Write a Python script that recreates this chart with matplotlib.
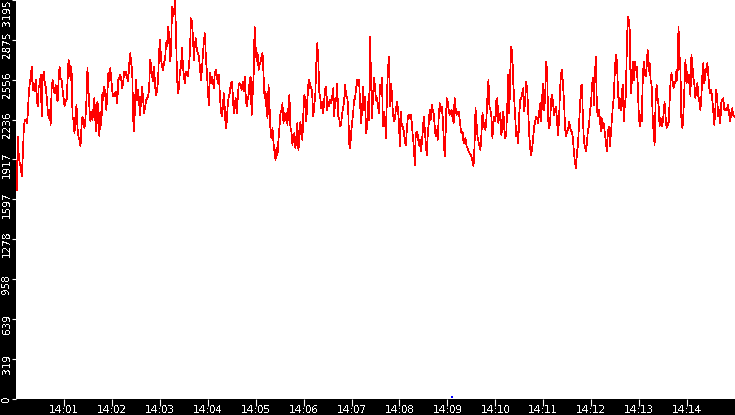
import numpy as np
import pandas as pd
import matplotlib
matplotlib.use("Agg")
import matplotlib.pyplot as plt
import matplotlib.dates as mdates
import matplotlib.transforms as mtransforms

# readings, left to right, roughly one per pixel column
seg1 = [1673, 2100, 1940, 1887, 1847, 1780, 1940, 2154, 2234, 2234, 2207, 2274, 2434, 2527, 2581, 2661,
        2474, 2527, 2461, 2554, 2421, 2341, 2501, 2514, 2594, 2260, 2554, 2621, 2541, 2501, 2421, 2314,
        2247, 2314, 2194, 2487, 2554, 2487, 2447, 2514, 2421, 2381, 2554, 2661, 2568, 2554, 2474, 2407,
        2341, 2394, 2381, 2554, 2714, 2688, 2554, 2661, 2260, 2234, 2127, 2274, 2354, 2167, 2100, 2074,
        2020, 2180, 2260, 2207, 2167, 2247, 2394, 2648, 2474, 2327, 2220, 2301, 2234, 2327, 2407, 2220,
        2140, 2381, 2314, 2100, 2301, 2194, 2447, 2394, 2501, 2421, 2314, 2447, 2608, 2541, 2648, 2554,
        2461, 2421, 2447, 2421, 2461, 2367, 2554, 2568, 2594, 2554, 2487, 2541, 2621, 2594, 2621, 2568,
        2541, 2688, 2768, 2688, 2621, 2234, 2140, 2421, 2554, 2394, 2474, 2367, 2274, 2407]
seg2 = [2501, 2394, 2287, 2341, 2394, 2407, 2421, 2487, 2714, 2674, 2581, 2541, 2661, 2501, 2434, 2474,
        2554, 2781, 2875, 2714, 2661, 2634, 2701, 2714, 2848, 2821, 2981, 2915, 2701, 2768, 3142, 3062,
        3088, 3195, 2928, 2581, 2447, 2487, 2634, 2648, 2808, 2661, 2581, 2527, 2621, 2594, 2581, 2674,
        2768, 3048, 3021, 2901, 2714, 2848, 2888, 2794, 2768, 2741, 2661, 2554, 2634, 2754, 2861, 2928,
        2741, 2621, 2474, 2354, 2608, 2527, 2581, 2554, 2487, 2608, 2634, 2594, 2527, 2594, 2461, 2314,
        2260, 2327, 2447, 2327, 2167, 2220, 2354, 2421, 2447, 2527, 2541, 2447, 2287, 2367, 2407, 2287,
        2407, 2514, 2527, 2501, 2474, 2541, 2461, 2581, 2434, 2341, 2394, 2434, 2554, 2581, 2274, 2421,
        2581, 2981, 2821, 2701, 2768, 2634, 2674, 2701, 2741]
seg3 = [2768, 2594, 2407, 2461, 2314, 2247, 2514, 2341, 2140, 2087, 2167, 2047, 1980, 1913, 2007, 1953,
        2074, 2180, 2287, 2314, 2367, 2207, 2287, 2234, 2287, 2194, 2341, 2434, 2167, 2140, 2034, 2100,
        2127, 2007, 2087, 2207, 1993, 2074, 2220, 2140, 2074, 2287, 2434, 2381, 2220, 2394, 2514, 2554,
        2487, 2501, 2421, 2260, 2354, 2434, 2688, 2848, 2714, 2461, 2407, 2327, 2381, 2287, 2394, 2487,
        2501, 2314, 2381, 2341, 2394, 2367, 2421, 2487, 2260, 2407, 2381, 2527, 2260, 2247, 2180, 2207,
        2287, 2327, 2394, 2514, 2421, 2421, 2341, 2047, 2007, 2127, 2207, 2287, 2394, 2407, 2487, 2554,
        2514, 2554, 2367, 2207, 2314, 2501, 2314, 2421, 2127, 2180, 2381, 2234, 2901, 2581, 2247, 2421,
        2568, 2501, 2394, 2407, 2341, 2287, 2514, 2474]
seg4 = [2568, 2180, 2301, 2247, 2087, 2434, 2634, 2741, 2341, 2527, 2447, 2287, 2220, 2247, 2314, 2381,
        2327, 2220, 2020, 2301, 2180, 2180, 2140, 2060, 2034, 2154, 2260, 2274, 2247, 2274, 2207, 2100,
        2020, 1873, 2127, 2140, 2114, 2034, 2074, 1980, 2047, 2140, 2260, 2167, 2047, 1953, 2114, 2207,
        2314, 2234, 2354, 2314, 2287, 2180, 2100, 2154, 2074, 2247, 2367, 2301, 2341, 2260, 2100, 1940,
        2127, 2407, 2381, 2314, 2274, 2287, 2314, 2247, 2207, 2407, 2327, 2274, 2287, 2301, 2247, 2167,
        2127, 2140, 2047, 2060, 2087, 2020, 2007, 1980, 1967, 1953, 1940, 1900, 1860, 2020, 2327, 2220,
        2100, 2060, 2020, 1993, 2127, 2287, 2220, 2167, 2154, 2247, 2421, 2554, 2341, 2314, 2260, 2087,
        2220, 2260, 2220, 2394, 2407, 2207, 2274, 2287]
seg5 = [2114, 2180, 2301, 2154, 2087, 2140, 2367, 2594, 2287, 2634, 2821, 2754, 2527, 2381, 2247, 2100,
        2140, 2047, 2287, 2394, 2407, 2447, 2487, 2301, 2407, 2541, 2474, 2301, 2114, 2007, 1953, 2007,
        2100, 2180, 2220, 2260, 2247, 2207, 2301, 2367, 2220, 2421, 2527, 2314, 2421, 2701, 2621, 2234,
        2167, 2207, 2394, 2434, 2367, 2274, 2314, 2341, 2220, 2114, 2247, 2487, 2608, 2634, 2501, 2381,
        2167, 2100, 2140, 2154, 2220, 2180, 2140, 2140, 2074, 1967, 1887, 1847, 1980, 2034, 2180, 2341,
        2501, 2514, 2234, 2060, 2020, 1980, 2047, 2154, 2180, 2301, 2354, 2501, 2568, 2354, 2594, 2741,
        2327, 2260, 2314, 2247, 2140, 2247, 2167, 2207, 2127, 2060, 1980, 2127, 2180, 2020, 2114, 2234,
        2341, 2421, 2621, 2754, 2714, 2527, 2327, 2407]
seg6 = [2314, 2447, 2514, 2220, 2341, 2421, 2768, 3062, 3035, 2955, 2447, 2527, 2701, 2554, 2701, 2634,
        2661, 2527, 2301, 2180, 2274, 2220, 2527, 2701, 2621, 2581, 2661, 2794, 2621, 2688, 2554, 2514,
        2274, 2127, 2034, 2381, 2514, 2407, 2354, 2180, 2247, 2180, 2207, 2274, 2381, 2260, 2167, 2207,
        2194, 2367, 2541, 2608, 2554, 2487, 2541, 2527, 2634, 2554, 2981, 2754, 2621, 2207, 2167, 2287,
        2501, 2714, 2527, 2621, 2527, 2594, 2421, 2754, 2674, 2568, 2514, 2407, 2501, 2527, 2421, 2381,
        2314, 2421, 2594, 2688, 2527, 2594, 2648, 2688, 2594, 2487, 2447, 2474, 2394, 2301, 2194, 2314,
        2474, 2394, 2260, 2314, 2207, 2367, 2394, 2407, 2314, 2314, 2327, 2314, 2354, 2274, 2220, 2287,
        2327, 2274, 2260]

marker_time = ["2024-01-01 14:09:06"]
marker_val = [12]

values = seg1 + seg2 + seg3 + seg4 + seg5 + seg6
times = pd.date_range("2024-01-01 14:00:01", "2024-01-01 14:14:59", periods=len(values))

ytick_vals = [0, 319.5, 639, 958.5, 1278, 1597.5, 1917, 2236.5, 2556, 2875.5, 3195]
ytick_labels = ["0", "319", "639", "958", "1278", "1597", "1917", "2236", "2556", "2875", "3195"]
xtick_times = pd.date_range("2024-01-01 14:01", "2024-01-01 14:14", freq="1min")

plt.rcParams["text.antialiased"] = False

fig = plt.figure(figsize=(7.35, 4.15), dpi=100, facecolor="black")
ax = fig.add_axes([16 / 735, 16.5 / 415, 719 / 735, 398.5 / 415])
ax.set_facecolor("white")
ax.plot(times, values, color="red", linewidth=0.5, antialiased=False)
ax.plot(pd.to_datetime(marker_time), marker_val, linestyle="none", marker="s",
        markersize=1.6, markeredgewidth=0, color="blue", antialiased=False)

ax.set_xlim(pd.Timestamp("2024-01-01 14:00:00"), pd.Timestamp("2024-01-01 14:15:00"))
ax.set_ylim(0, 3195)
ax.set_xticks(xtick_times)
ax.xaxis.set_major_formatter(mdates.DateFormatter("%H:%M"))
ax.set_yticks(ytick_vals)
ax.set_yticklabels(ytick_labels, rotation=90, va="center")

for s in ax.spines.values():
    s.set_visible(False)
ax.tick_params(axis="both", colors="white", labelsize=7.5, direction="out", width=0.8)
ax.tick_params(axis="x", length=5, pad=0)
ax.tick_params(axis="y", length=3, pad=0)

for lab in ax.get_yticklabels():
    txt = lab.get_text()
    if txt == "3195":
        lab.set_va("top")
        continue
    dy = -5 if len(txt) > 1 else 0
    lab.set_transform(lab.get_transform() +
                      mtransforms.ScaledTranslation(0, dy / 100, fig.dpi_scale_trans))

fig.savefig("out.png", dpi=100, facecolor="black")
